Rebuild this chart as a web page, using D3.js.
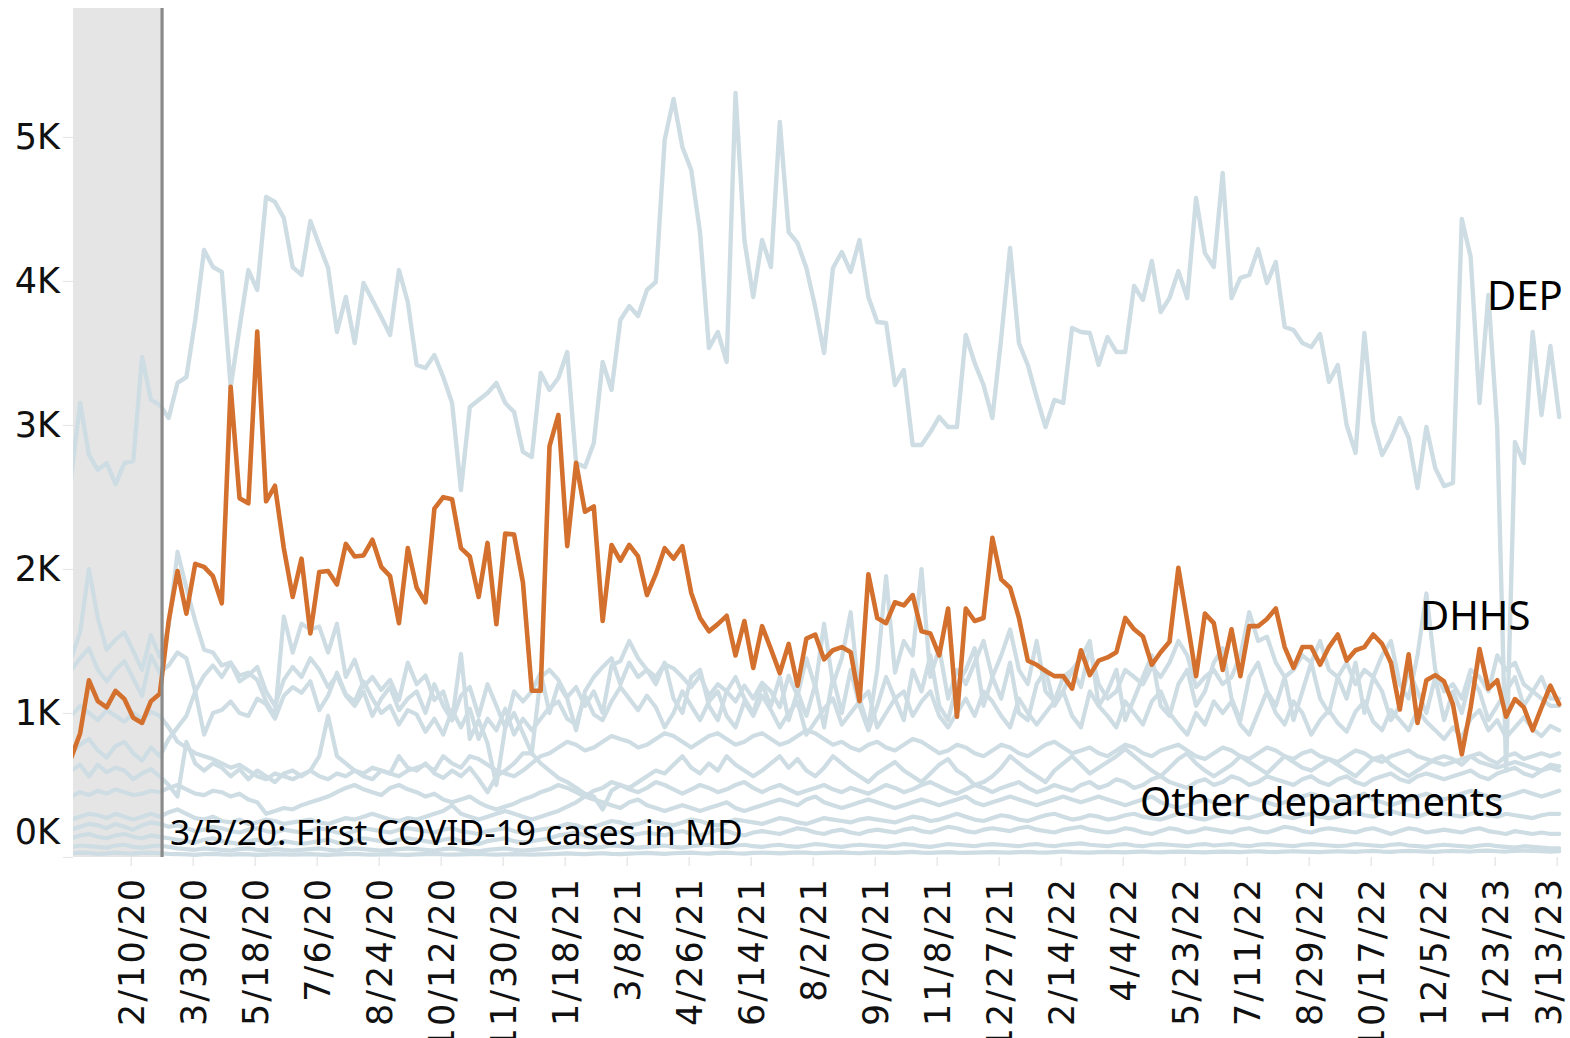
<!DOCTYPE html>
<html><head><meta charset="utf-8">
<script src="https://cdn.jsdelivr.net/npm/d3@7"></script>
<style>
html,body{margin:0;padding:0;background:#fff;}
svg{display:block;}
</style></head>
<body>
<svg id="chart" width="1570" height="1038"></svg>
<script>
// ---------- DATA ----------
const firstWeek = "12/25/19";   // first weekly observation
const covidDateLabel = "3/5/20";
const covidText = "3/5/20: First COVID-19 cases in MD";
const xTickLabels = ["2/10/20","3/30/20","5/18/20","7/6/20","8/24/20","10/12/20","11/30/20","1/18/21","3/8/21","4/26/21","6/14/21","8/2/21","9/20/21","11/8/21","12/27/21","2/14/22","4/4/22","5/23/22","7/11/22","8/29/22","10/17/22","12/5/22","1/23/23","3/13/23"];
const yTickValues = [0,1000,2000,3000,4000,5000];
const yTickLabels = ["0K","1K","2K","3K","4K","5K"];

const DEP = [
2640,3153,2792,2688,2736,2590,2736,2750,3472,3174,3139,3049,3292,
3333,3729,4215,4097,4063,3264,3674,4076,3938,4583,4549,4438,4097,
4042,4417,4250,4090,3646,3889,3569,3986,3868,3750,3625,4076,3854,
3417,3396,3486,3333,3153,2549,3125,3174,3222,3292,3153,3090,2813,
2778,3361,3243,3326,3507,2736,2708,2875,3438,3243,3729,3826,3757,
3938,3993,4979,5264,4931,4771,4333,3535,3646,3438,5306,4285,3889,
4285,4097,5104,4340,4264,4090,3819,3500,4090,4201,4063,4285,3889,
3715,3708,3278,3382,2861,2861,2951,3056,2986,2986,3625,3431,3278,
3049,3604,4229,3569,3417,3194,2986,3174,3153,3674,3646,3639,3417,
3611,3507,3507,3965,3868,4139,3785,3882,4069,3882,4576,4194,4097,
4750,3882,4021,4042,4222,3986,4132,3681,3660,3569,3542,3632,3299,
3417,3000,2806,3639,3021,2792,2903,3049,2910,2563,2986,2701,2576,
2597,4431,4167,3153,3903,2979,600,2882,2736,3646,3069,3549,3056];

const DHHS = [
690,858,1227,1082,1039,1154,1097,967,931,1082,1133,1639,1986,
1690,2036,2015,1950,1762,3265,2492,2456,3649,2470,2578,2145,1806,
2072,1552,1979,1986,1892,2174,2087,2094,2203,2015,1950,1624,2145,
1870,1769,2419,2499,2485,2145,2087,1806,2181,1617,2246,2239,1906,
1154,1154,2853,3070,2159,2738,2398,2434,1639,2167,2058,2167,2087,
1819,1964,2145,2072,2159,1834,1660,1567,1617,1675,1400,1639,1313,
1603,1444,1277,1480,1190,1516,1545,1372,1436,1458,1422,1082,1964,
1660,1624,1769,1747,1819,1567,1552,1400,1726,974,1726,1639,1660,
2217,1928,1870,1660,1364,1335,1292,1256,1256,1169,1436,1263,1364,
1386,1422,1660,1581,1531,1335,1422,1494,2008,1639,1256,1690,1624,
1299,1581,1256,1603,1603,1653,1726,1458,1313,1458,1458,1335,1458,
1545,1364,1436,1458,1545,1480,1349,1024,1408,931,1227,1263,1219,
1060,713,1039,1444,1169,1227,974,1097,1039,880,1039,1190,1060];

const other1 = [
1380,1560,2000,1660,1440,1510,1560,1430,1300,1540,1390,1600,2120,
1870,1640,1440,1420,1330,1350,1260,1280,1230,1080,980,1670,1420,
1620,1580,1600,1420,1620,1250,1370,1180,1250,1160,1230,1090,1350,
1200,1260,1090,1150,950,1410,820,950,790,500,900,1000,860,
720,1250,1300,1230,1110,1180,1050,1150,1000,1330,1360,1500,1380,
1300,1250,1340,1310,1250,1180,1260,1120,1200,1150,1080,1190,1100,
1210,1150,1040,1260,1120,1380,1180,1620,1200,1380,1700,1100,900,
1300,1950,1280,1500,1400,2000,1250,1450,1100,1300,1200,1350,1500,
1250,1400,1580,1300,1200,1500,1150,1080,1250,1300,1180,1450,1200,
1100,1150,1300,1250,1200,1320,1250,1350,1500,1400,1180,1250,1300,
1200,1250,1400,1700,1500,1530,1350,1250,1300,1400,1350,1500,1300,
1250,1350,1200,1300,1250,1400,1500,1200,1100,1400,1830,1300,1150,
1200,1100,1300,1250,1150,1400,1300,1350,1200,1150,1100,1050,1050];

const other2 = [
1300,1380,1450,1300,1220,1300,1360,1240,1120,1400,1280,1330,1420,
1380,1150,1260,1330,1250,1350,1220,1260,1320,1150,1050,1230,1320,
1250,1380,1300,1180,1260,1120,1050,1150,980,1100,1180,1020,1100,
1150,1000,1200,1050,950,1120,1180,980,1200,1050,900,1150,1080,
1150,1280,1000,1200,1100,880,1150,1250,1320,1380,1200,1350,1250,
1300,1200,1350,1100,1000,1250,1300,1050,950,1150,1250,1100,1000,
1200,1050,1250,950,1150,980,1200,900,1250,1000,1300,1050,880,
1050,1250,1100,950,1300,1150,1400,1050,950,1200,1300,1450,1050,
1250,1100,1350,1000,950,1200,1300,1050,1150,1300,1380,1500,1050,
1150,1300,950,1100,1250,1400,1050,980,1200,1300,1050,1150,1350,
1450,1100,950,1250,1350,1150,1050,1250,950,1150,1350,1100,1000,
1250,1100,1350,1000,1250,1150,950,1050,1300,1150,1000,1250,950,
1150,1000,1250,1150,950,1050,1150,1250,1050,1150,1250,1100,1100];

const other3 = [
720,780,820,740,690,770,800,720,670,760,700,820,900,
980,1150,850,1000,1020,1080,1000,980,1100,1060,960,1120,1180,
1140,1220,1020,1120,1280,1130,1080,1220,1100,1000,1050,920,1020,
990,870,960,850,1020,900,1030,820,960,880,1030,850,960,
880,960,1040,1080,960,920,1120,990,950,1080,1180,1100,1020,
1120,1040,900,1000,1150,1050,950,1080,1150,980,900,1080,980,
1120,1020,900,1000,1080,850,940,1030,1100,920,1000,1080,1150,
900,1000,1100,1150,980,1080,1150,980,900,1000,1100,980,1150,
1080,980,900,1100,1000,920,1000,1080,1150,980,900,1150,1050,
980,900,1080,1000,920,1080,1150,1000,920,850,1000,920,1080,
1000,1080,920,850,1000,1150,1000,920,1080,1000,850,950,1020,
930,870,1010,1080,940,880,1020,950,880,1020,940,880,820,
900,830,960,1020,880,950,830,900,970,890,840,910,880];

const other4 = [
600,640,560,640,590,620,600,540,580,610,560,500,420,
800,650,600,650,620,560,610,540,600,560,520,580,600,
560,600,700,980,700,650,600,560,540,600,580,700,620,
600,650,580,550,600,560,620,540,450,560,600,650,720,
720,650,600,550,520,480,440,420,330,460,500,480,520,
560,600,580,640,700,620,580,650,600,700,640,600,560,
600,650,700,620,680,600,560,620,700,650,600,560,520,
580,620,660,600,560,520,580,640,680,600,560,500,520,
560,620,700,650,600,560,520,600,650,700,640,580,620,
660,700,750,700,650,600,560,620,680,720,650,600,560,
600,640,700,660,620,580,640,700,660,620,600,640,680,
640,600,560,620,680,700,640,600,560,600,640,680,700,
680,640,700,720,680,650,700,720,680,700,720,700,720];

const other5 = [
980,1050,1000,950,1020,980,940,1000,960,1010,980,900,800,
760,720,700,680,650,620,640,600,560,540,580,560,540,
570,600,560,540,580,560,600,580,620,600,580,560,600,
620,640,600,700,650,620,700,680,640,600,580,560,600,
650,700,720,760,800,780,740,760,800,840,820,800,760,
780,820,860,840,800,760,800,840,860,820,780,800,840,
860,820,780,800,840,880,860,820,780,800,760,740,780,
800,760,740,780,820,800,760,720,740,780,760,720,700,
740,780,760,720,700,740,780,800,760,720,740,760,720,
700,740,780,760,720,700,740,760,780,740,700,680,720,
760,740,700,680,720,760,740,700,680,720,740,700,680,
660,700,740,720,680,660,700,720,740,700,680,660,640,
660,680,700,660,640,620,640,660,640,620,600,640,630];

const other6 = [
420,450,430,460,440,470,450,430,440,460,450,480,500,
470,440,430,460,450,420,440,400,380,300,320,340,330,
360,380,400,420,450,480,500,470,450,430,480,500,470,
450,420,440,400,380,400,420,380,350,330,350,370,400,
420,450,470,500,480,450,420,460,480,520,500,470,450,
480,520,500,470,440,470,500,480,450,470,500,520,480,
450,480,500,470,440,460,480,500,470,450,480,460,440,
470,500,480,450,470,500,520,490,460,440,470,500,480,
450,480,500,520,480,450,470,500,480,460,500,520,480,
500,540,520,480,500,540,560,520,500,480,520,540,500,
520,560,540,500,520,560,540,520,500,540,560,520,500,
540,560,520,500,540,560,580,540,520,560,580,560,540,
560,580,600,560,540,580,600,620,580,560,600,620,600];

const other7 = [
260,280,300,290,270,300,280,260,280,300,280,310,330,
300,270,260,280,250,240,260,230,240,260,250,230,240,
250,260,240,230,250,270,260,280,300,280,260,250,270,
260,280,300,320,360,300,280,260,280,300,320,300,280,
260,280,300,320,350,380,420,400,380,360,340,380,400,
360,340,320,340,360,340,320,340,360,380,340,320,340,
360,380,400,380,360,400,420,380,360,340,360,380,400,
380,360,340,360,380,400,380,360,380,400,420,380,360,
380,400,420,400,380,360,380,400,420,400,380,400,420,
400,380,360,380,400,420,380,360,340,360,380,400,380,
360,380,400,420,400,380,360,380,400,420,440,420,400,
380,400,420,440,400,380,360,380,400,420,440,420,400,
420,440,460,440,420,400,420,440,460,440,420,440,460];

const other8 = [
190,210,230,220,200,230,210,190,220,240,230,210,220,
200,180,190,210,200,180,170,190,200,180,170,190,180,
170,180,200,190,170,160,180,200,190,180,170,190,200,
190,180,170,190,200,180,170,160,180,190,200,180,170,
180,190,200,210,230,220,200,210,230,250,240,220,230,
250,240,230,220,240,260,250,230,220,240,260,250,240,
230,250,270,260,240,230,250,270,260,250,240,260,270,
260,250,240,260,280,270,250,260,280,300,280,260,250,
270,290,280,260,250,270,290,300,280,260,270,290,280,
260,270,290,300,280,270,260,280,300,290,270,260,280,
290,300,280,270,290,310,300,280,270,290,300,280,270,
280,300,310,290,280,300,320,300,290,280,300,310,300,
290,280,300,310,290,280,300,290,280,270,290,300,300];

const other9 = [
130,150,160,140,130,150,160,140,130,150,140,130,120,
110,100,120,130,110,100,90,110,120,100,90,110,100,
90,100,110,120,100,90,110,130,120,110,100,120,130,
120,110,100,120,130,110,100,90,110,120,130,110,100,
110,120,130,150,160,170,150,140,160,180,170,150,160,
170,160,150,170,180,160,150,170,190,180,160,150,170,
180,170,160,180,200,190,170,160,180,190,170,160,180,
190,180,170,190,200,180,170,190,210,200,180,170,190,
200,190,180,200,210,190,180,170,190,200,210,190,180,
170,180,200,190,170,160,180,200,190,170,180,200,190,
180,170,190,200,180,170,190,210,200,180,170,190,200,
190,180,170,190,200,180,160,180,200,190,170,180,190,
180,170,190,200,180,170,160,180,170,160,170,160,160];

const other10 = [
70,80,75,70,65,80,85,70,65,75,80,70,60,
55,50,60,55,50,45,55,60,50,45,55,50,45,
50,55,60,50,45,55,60,55,50,45,50,55,60,
55,50,45,55,60,50,45,40,50,55,60,50,45,
50,55,60,65,70,75,70,65,70,80,75,70,65,
70,75,80,70,65,75,80,85,75,70,80,85,75,
70,80,85,75,70,80,90,85,75,70,80,85,80,
75,70,80,90,85,75,70,80,90,85,80,75,85,
90,85,80,75,85,90,80,75,85,90,95,85,80,
75,85,90,80,75,85,90,85,80,75,85,90,80,
85,90,80,75,85,90,85,80,75,85,90,85,80,
75,80,90,85,80,75,85,90,80,75,70,80,85,
80,75,70,80,85,75,70,65,75,70,65,60,60];

const other11 = [
25,30,28,22,25,30,26,24,28,30,26,22,20,
18,15,20,22,18,16,20,18,15,17,20,18,16,
18,20,17,15,18,20,22,18,16,18,20,17,15,
18,20,22,18,16,18,20,22,18,16,18,20,18,
16,18,20,22,25,22,20,24,26,22,20,24,26,
28,25,22,26,28,30,26,24,28,30,26,24,28,
30,28,25,28,32,30,26,28,30,32,28,26,30,
32,30,28,32,35,30,28,32,34,30,28,30,32,
34,32,30,34,36,32,30,34,38,34,32,30,34,
36,34,32,36,38,34,32,36,38,36,34,32,36,
38,36,34,38,40,36,34,38,40,38,36,34,38,
40,38,36,40,42,38,36,40,42,40,38,36,40,
42,40,38,42,44,40,38,42,44,42,40,38,40];

const otherDepartments = [other11, other10, other9, other8, other7, other6, other4, other5, other3, other2, other1];

// ---------- CHART ----------
const W = 1570, H = 1038;
const plotLeft = 73, plotRight = 1568, plotTop = 8, plotBottom = 857;
const parse = d3.timeParse("%m/%d/%y");
const tickDates = xTickLabels.map(parse);
const start = parse(firstWeek);
const covidDate = parse(covidDateLabel);

const x = d3.scaleTime()
  .domain([tickDates[0], tickDates[tickDates.length - 1]])
  .range([130.7, 1556.7]);
const y = d3.scaleLinear().domain([0, 5000]).range([plotBottom, 137]);

const weekDate = i => d3.timeDay.offset(start, 7 * i);

const svg = d3.select("#chart");
svg.append("rect").attr("width", W).attr("height", H).attr("fill", "#fff");

const defs = svg.append("defs");
defs.append("clipPath").attr("id", "plotclip")
  .append("rect").attr("x", plotLeft).attr("y", 0)
  .attr("width", plotRight - plotLeft).attr("height", plotBottom + 4);

// pre-COVID shaded period
svg.append("rect")
  .attr("x", plotLeft).attr("y", plotTop)
  .attr("width", x(covidDate) - plotLeft + 1)
  .attr("height", plotBottom - plotTop)
  .attr("fill", "#e5e5e5");

// axes
const xAxis = d3.axisBottom(x).tickValues(tickDates)
  .tickFormat((d, i) => xTickLabels[i]).tickSize(9).tickPadding(0);
const gx = svg.append("g").attr("transform", `translate(0,${plotBottom})`).call(xAxis);
gx.select(".domain").remove();
gx.attr("font-family", "DejaVu Sans").attr("font-size", 35);
gx.selectAll(".tick line").attr("stroke", "#e3e3e3").attr("stroke-width", 1.2);
gx.selectAll(".tick text")
  .attr("fill", "#111")
  .attr("transform", "rotate(-90)")
  .attr("text-anchor", "end")
  .attr("x", -20)
  .attr("y", d => Math.min(0, 1548 - x(d)))
  .attr("dy", "0.36em")
  .attr("letter-spacing", "2px");

const yAxis = d3.axisLeft(y).tickValues(yTickValues)
  .tickFormat((d, i) => yTickLabels[i]).tickSize(10).tickPadding(3);
const gy = svg.append("g").attr("transform", `translate(${plotLeft},0)`).call(yAxis);
gy.select(".domain").remove();
gy.attr("font-family", "DejaVu Sans").attr("font-size", 35);
gy.selectAll(".tick line").attr("stroke", "#e6e6e6").attr("stroke-width", 1.2);
gy.selectAll(".tick text").attr("fill", "#111")
  .attr("y", d => d === 0 ? -25 : 0);

// lines
const line = d3.line()
  .x((d, i) => x(weekDate(i)))
  .y(d => y(d))
  .curve(d3.curveLinear);

const gLines = svg.append("g").attr("clip-path", "url(#plotclip)");
gLines.selectAll("path.other").data(otherDepartments).enter()
  .append("path").attr("class", "other")
  .attr("d", line)
  .attr("fill", "none").attr("stroke", "#cedde3")
  .attr("stroke-width", 4.2).attr("stroke-linejoin", "round").attr("stroke-linecap", "round");

gLines.append("path").datum(DEP)
  .attr("d", line)
  .attr("fill", "none").attr("stroke", "#cedde3")
  .attr("stroke-width", 4.4).attr("stroke-linejoin", "round").attr("stroke-linecap", "round");

gLines.append("path").datum(DHHS)
  .attr("d", line)
  .attr("fill", "none").attr("stroke", "#d3702d")
  .attr("stroke-width", 4.6).attr("stroke-linejoin", "round").attr("stroke-linecap", "round");

// first COVID case reference line
svg.append("line")
  .attr("x1", x(covidDate) + 1).attr("x2", x(covidDate) + 1)
  .attr("y1", plotTop).attr("y2", plotBottom)
  .attr("stroke", "#8a8a8a").attr("stroke-width", 3.2);

// labels
const lab = svg.append("g").attr("font-family", "'Noto Sans', 'Open Sans', sans-serif").attr("fill", "#000");
lab.append("text").attr("x", 170).attr("y", 845).attr("font-size", 35.3).text(covidText);
lab.append("text").attr("x", 1487).attr("y", 310).attr("font-size", 40).text("DEP");
lab.append("text").attr("x", 1420).attr("y", 630).attr("font-size", 40).text("DHHS");
lab.append("text").attr("x", 1140).attr("y", 816).attr("font-size", 40).text("Other departments");
</script>
</body></html>
